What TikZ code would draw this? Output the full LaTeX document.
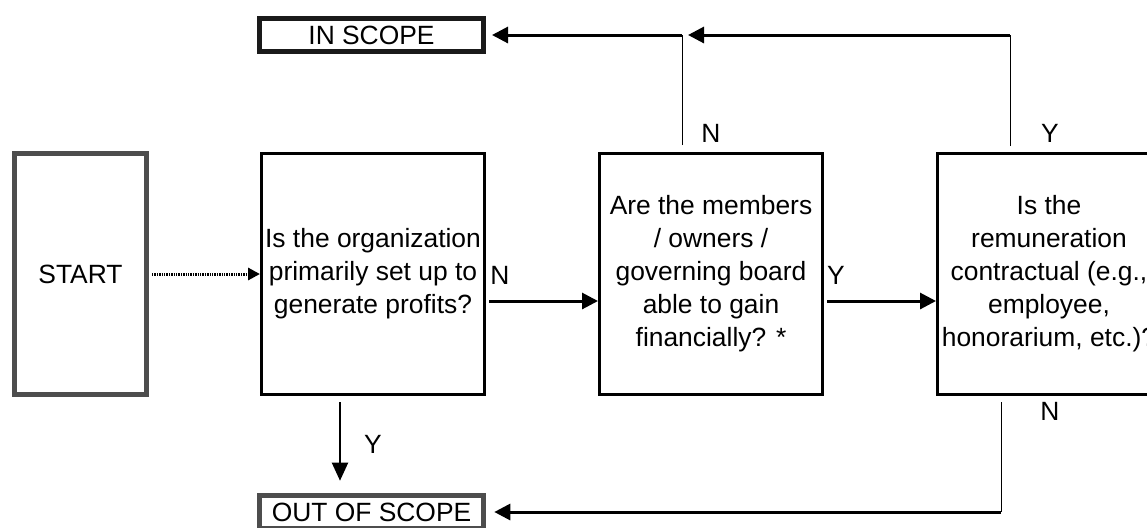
\documentclass[tikz,border=0pt]{standalone}
\usepackage{fontspec}
\setmainfont{Liberation Sans}
\usetikzlibrary{arrows.meta}
\definecolor{edgegray}{HTML}{4D4D4D}
\definecolor{edgedark}{HTML}{1A1A1A}

\begin{document}
\begin{tikzpicture}[x=0.5pt,y=-0.5pt,font=\fontsize{13.2}{16.5}\selectfont,
    qbox/.style={draw,line width=1.5pt,align=center,inner sep=0pt,minimum width=111.5pt,minimum height=120.5pt},
    endbox/.style={draw=edgedark,line width=2.3pt,inner sep=0pt,minimum width=112.2pt,minimum height=16.7pt},
    flow/.style={line width=1.5pt,-{Triangle[length=8pt,width=8pt]}},
    riser/.style={line width=0.5pt}]
    \useasboundingbox (0,0) rectangle (1147,527);
           \node at (80.5,274) [qbox,draw=edgegray,line width=2.4pt,minimum width=66.1pt,minimum height=120.6pt] (start) {START};
           \node at (373,274) [qbox] (q1) {Is the organization\\primarily set up to\\generate profits?};
            \node at (711,274) [qbox] (q2) {Are the members\\/ owners /\\governing board\\able to gain\\financially? *};
            \node at (1049,274) [qbox] (q3) {Is the\\remuneration\\contractual (e.g.,\\employee,\\honorarium, etc.)?};
            \node at (371.5,35) [endbox] (inscope) {IN SCOPE};
            \node at (371.5,512) [endbox,draw=edgegray,line width=2.6pt] (outscope) {OUT OF SCOPE};
            \coordinate (nturn) at (682,35);
            \coordinate (yturn) at (1010,35);
            \coordinate (nback) at (1001,512);
          	 \draw[line width=1.5pt,dash pattern=on 0.7pt off 0.5pt,-{Triangle[length=6pt,width=6pt]},shorten <=1.5pt] (start.east) -- (q1.west);
          	 \draw[flow,shorten <=1.5pt] ([yshift=-13.5pt]q1.east) -- ([yshift=-13.5pt]q2.west); \node at (500,275) (n1) {N};
          	 \draw[flow,shorten <=1.5pt] ([yshift=-13.5pt]q2.east) -- ([yshift=-13.5pt]q3.west); \node at (836,275) (y2) {Y};
             \draw[line width=1pt,-{Triangle[length=9pt,width=8pt]},shorten <=3pt,shorten >=6pt] ([xshift=-16.5pt]q1.south) -- ([xshift=-16.5pt]q1.south |- outscope.north); \node at (373,444) (y1) {Y};
             \draw[riser] ([shift={(-29,-7)}]q2.north) -- (nturn); \node at (711,133) (n2) {N};
             \draw[flow,shorten >=3pt] (nturn) -- (inscope.east);
             \draw[riser] ([shift={(-39,-6)}]q3.north) -- (yturn); \node at (1050,133) (y3) {Y};
             \draw[flow,shorten >=3pt] (yturn) -- (nturn);
             \draw[riser] ([shift={(-48,6)}]q3.south) -- (nback); \node at (1050,411) (n3) {N};
             \draw[flow,shorten >=4pt] (nback) -- (outscope.east);
        \end{tikzpicture}
\end{document}
